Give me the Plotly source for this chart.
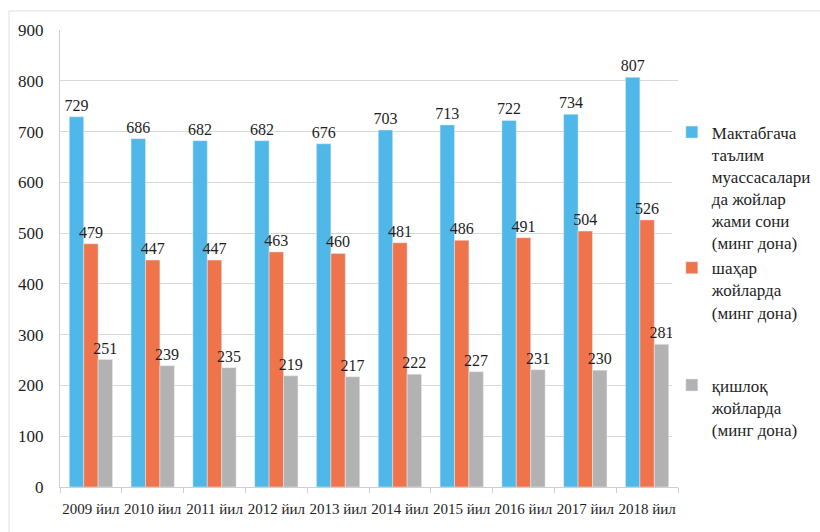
import plotly.graph_objects as go

years = ["2009 йил", "2010 йил", "2011 йил", "2012 йил", "2013 йил",
         "2014 йил", "2015 йил", "2016 йил", "2017 йил", "2018 йил"]
total = [729, 686, 682, 682, 676, 703, 713, 722, 734, 807]
urban = [479, 447, 447, 463, 460, 481, 486, 491, 504, 526]
rural = [251, 239, 235, 219, 217, 222, 227, 231, 230, 281]

names = [
    "Мактабгача<br>таълим<br>муассасалари<br>да жойлар<br>жами сони<br>(минг дона)",
    "шаҳар<br>жойларда<br>(минг дона)",
    "қишлоқ<br>жойларда<br>(минг дона)",
]
colors = ["#4fb8e8", "#f0744b", "#b2b2b2"]
groups = ["g1", "g1", "g2"]

FONT = "Liberation Serif"
TXT = "#1e1e1e"
fig = go.Figure()
for vals, name, col, grp in zip([total, urban, rural], names, colors, groups):
    fig.add_trace(go.Bar(
        x=years, y=vals, name=name, marker_color=col, legendgroup=grp,
        text=vals, textposition="outside", cliponaxis=False,
        constraintext="none",
        textfont=dict(family=FONT, size=16, color=TXT),
    ))

fig.update_layout(
    width=820, height=532,
    margin=dict(l=60, r=142, t=30, b=45, autoexpand=False),
    paper_bgcolor="white", plot_bgcolor="white",
    barmode="group", bargap=0.3, bargroupgap=0,
    font=dict(family=FONT, size=16, color=TXT),
    legend=dict(x=0.99, y=0.815, xanchor="left", yanchor="top",
                traceorder="grouped", tracegroupgap=48, valign="top",
                font=dict(family=FONT, size=17, color=TXT),
                itemwidth=30),
    showlegend=True,
)
fig.update_xaxes(
    showline=True, linecolor="#cfcfcf", linewidth=1,
    ticks="outside", tickson="boundaries", ticklen=5, tickcolor="#cfcfcf",
    tickangle=0, automargin=False, ticklabelstandoff=8,
    tickfont=dict(family=FONT, size=15, color=TXT),
)
fig.update_yaxes(
    range=[0, 900], dtick=100, showgrid=True, gridcolor="#d9d9d9",
    showline=True, linecolor="#cfcfcf", zeroline=False, automargin=False,
    tickfont=dict(family=FONT, size=17, color=TXT),
    ticklabelstandoff=12,
)
# faint scan frame
fig.add_shape(type="line", xref="paper", yref="paper",
              x0=-0.0825, x1=1.25, y0=1.0416, y1=1.0416,
              line=dict(color="#e0e0e0", width=1))
fig.add_shape(type="line", xref="paper", yref="paper",
              x0=-0.0825, x1=-0.0825, y0=1.0416, y1=-0.1,
              line=dict(color="#e0e0e0", width=1))

fig.write_html("out.html", config={"displayModeBar": False},
               post_script="document.body.style.margin='0';")
